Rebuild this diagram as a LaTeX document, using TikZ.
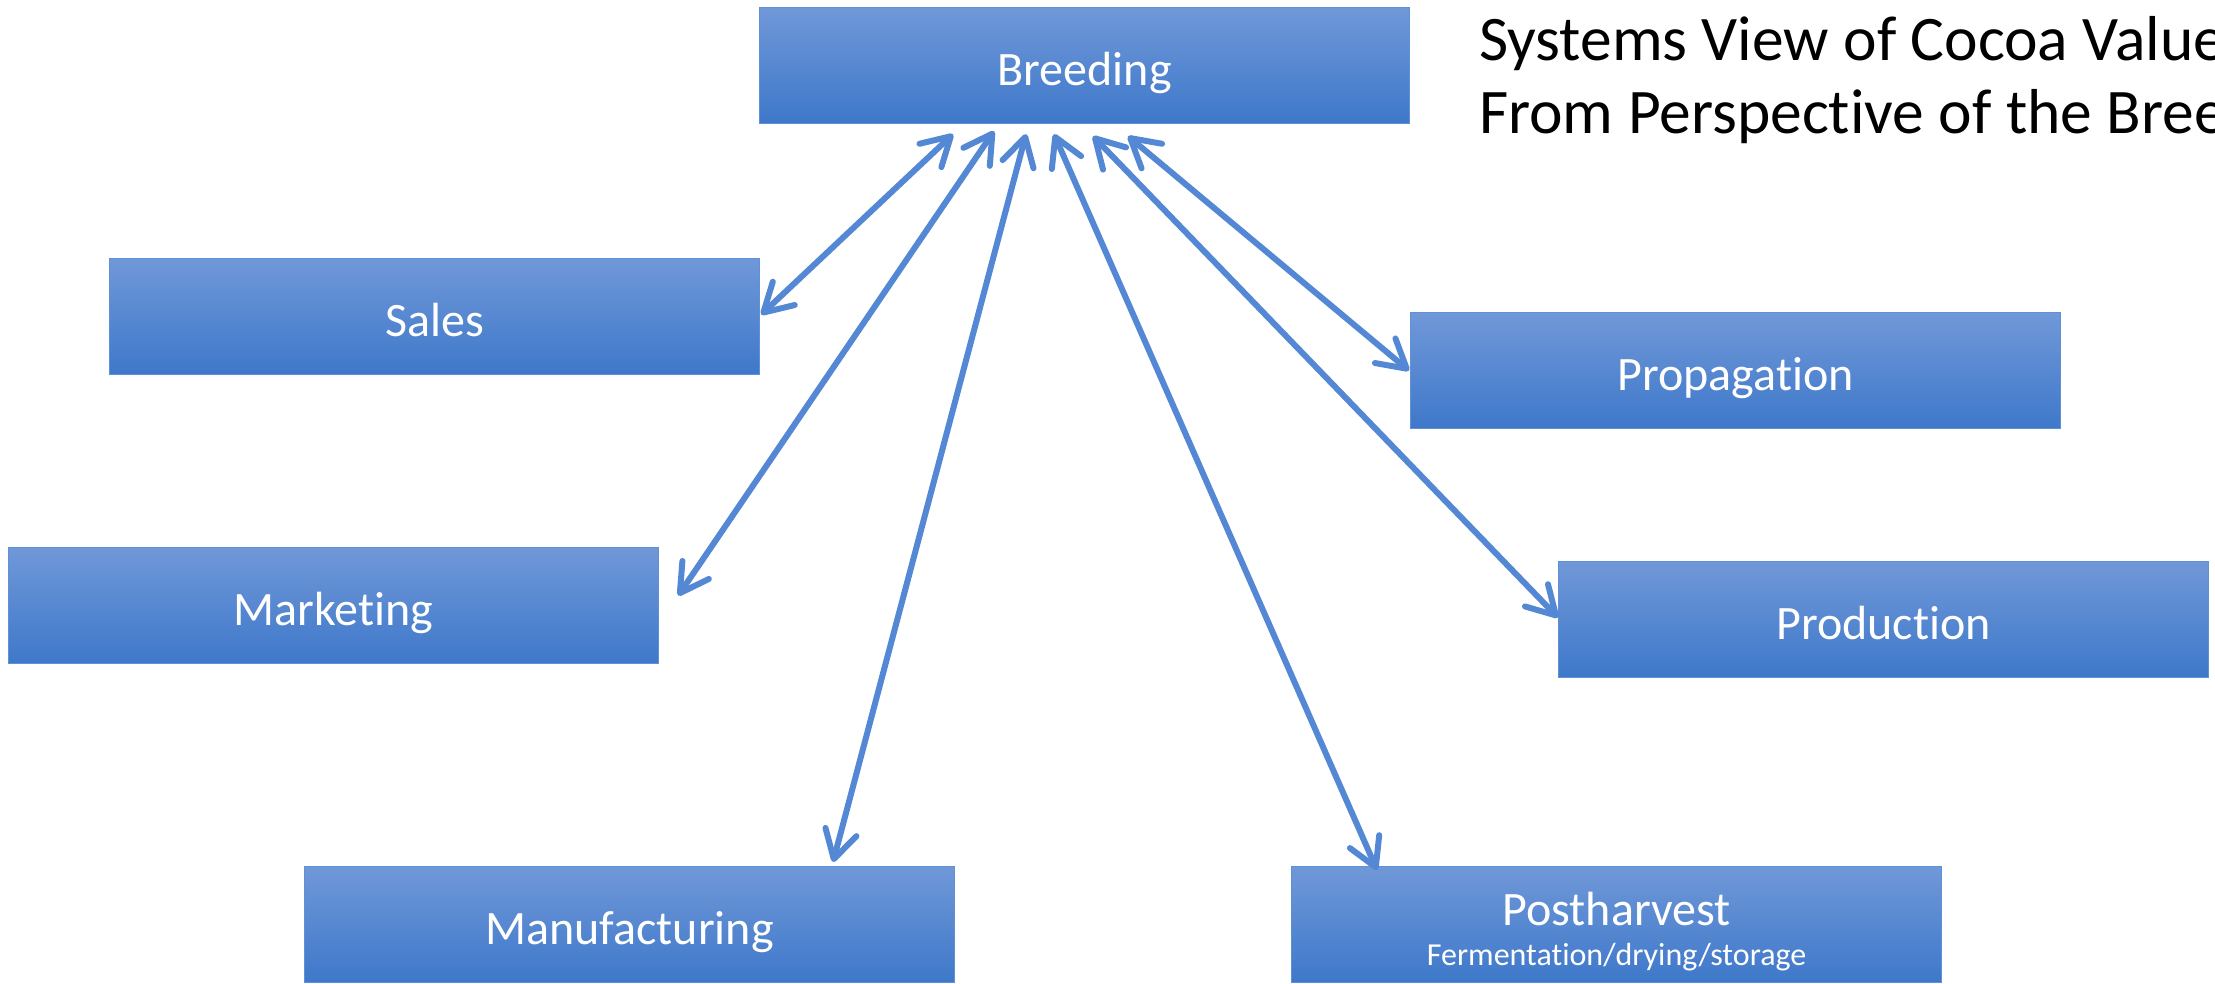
\documentclass[tikz,border=0pt]{standalone}
\usepackage{fontspec}
\setmainfont{Carlito}[Ligatures=NoCommon]
\usetikzlibrary{arrows.meta,calc}
\definecolor{boxtop}{RGB}{112,152,216}
\definecolor{boxbot}{RGB}{62,120,202}
\definecolor{boxedge}{RGB}{96,144,214}
\definecolor{linkblue}{RGB}{84,136,212}
\tikzset{
  unit/.style={draw=boxedge, line width=1.2pt, top color=boxtop, bottom color=boxbot,
    minimum width=650pt, minimum height=116pt, inner sep=0pt, anchor=north west,
    text=white, font=\fontsize{48}{58}\selectfont, text height=39pt, text depth=0pt},
  link/.style={draw=linkblue, line width=6pt,
    {Straight Barb[length=28pt,width=32pt,round]}-{Straight Barb[length=28pt,width=32pt,round]}},
  boxlabel/.style={text=white, anchor=base, inner sep=0pt},
  heading/.style={anchor=base west, inner sep=0pt, font=\fontsize{63.5}{76}\selectfont}
}
\begin{document}
\begin{tikzpicture}[x=1pt,y=-1pt]
\useasboundingbox (0,0) rectangle (2215,984);
\clip (0,0) rectangle (2215,984);

% boxes of the value chain
\node[unit] (breeding) at (759,7) {Breeding};
\node[unit] (sales) at (109,258) {Sales};
\node[unit] (propagation) at (1410,312) {Propagation};
\node[unit] (marketing) at (8,547) {Marketing};
\node[unit] (production) at (1558,561) {Production};
\node[unit] (manufacturing) at (304,866) {Manufacturing};
\node[unit] (postharvest) at (1291,866) {};
\node[boxlabel, font=\fontsize{48}{58}\selectfont] (phtitle) at ($(postharvest.north)+(0,59)$) {Postharvest};
\node[boxlabel, font=\fontsize{32}{38}\selectfont] (phsub) at ($(postharvest.north)+(0,99)$) {Fermentation/drying/storage};

% heading
\node[heading] (headone) at (1479,61) {Systems View of Cocoa Value};
\node[heading] (headtwo) at (1479,134) {From Perspective of the Breeder};

% two-way links from breeding
\draw[link] ([shift={(194,10)}]breeding.south west) -- ([shift={(1,-2)}]sales.east);
\draw[link] ([shift={(235,7)}]breeding.south west) -- ([shift={(19,-10)}]marketing.east);
\draw[link] ([shift={(267,10)}]breeding.south west) -- ([shift={(529,-4)}]manufacturing.north west);
\draw[link] ([shift={(295,10)}]breeding.south west) -- ([shift={(86,4)}]postharvest.north west);
\draw[link] ([shift={(334,12)}]breeding.south west) -- ([shift={(0,-2)}]production.west);
\draw[link] ([shift={(369,12)}]breeding.south west) -- ([shift={(-1,0)}]propagation.west);
\end{tikzpicture}
\end{document}
